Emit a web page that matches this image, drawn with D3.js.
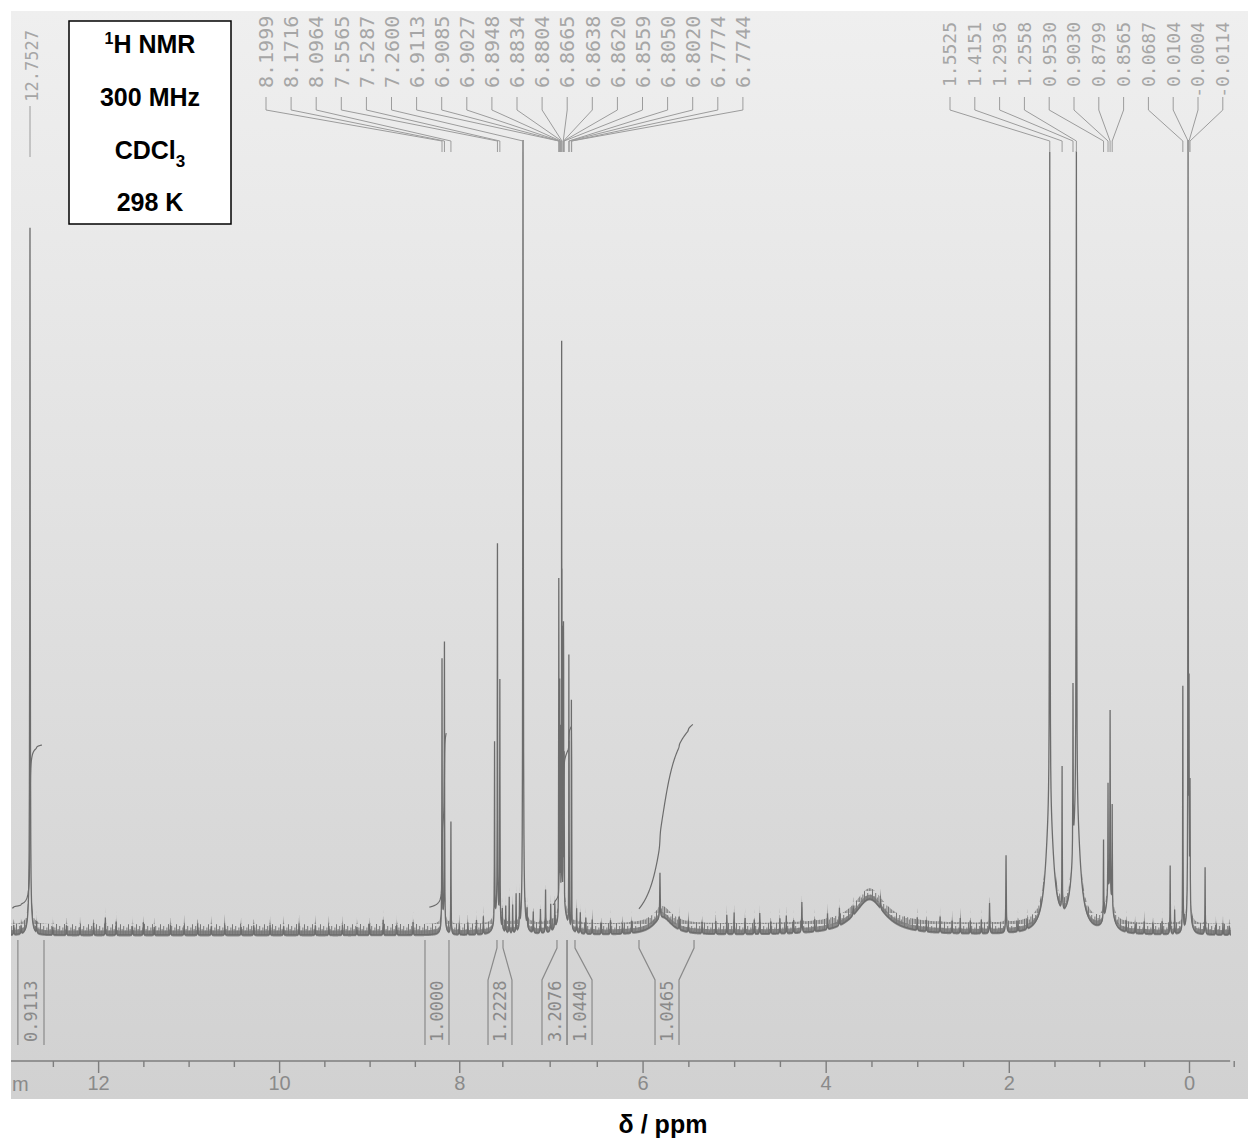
<!DOCTYPE html>
<html>
<head>
<meta charset="utf-8">
<script src="https://cdn.jsdelivr.net/npm/d3@7/dist/d3.min.js"></script>
<style>
  body { margin: 0; background: #fff; }
  svg { display: block; }
</style>
</head>
<body>
<script>
// peaks: [ppm, height in % of full scale, half width in ppm]
var peaks = [
    [12.7527, 86, 0.003], [12.755, 3, 0.02],
    [8.1999, 33.6, 0.002], [8.1716, 35.0, 0.002], [8.0964, 14.1, 0.002], [8.18, 2, 0.02],
    [7.59, 22.6, 0.002], [7.5565, 46.0, 0.002], [7.5287, 30.4, 0.002], [7.56, 3, 0.03],
    [7.26, 100, 0.003], [7.26, 3, 0.02],
    [6.9113, 40, 0.001], [6.9085, 20, 0.001], [6.9027, 28, 0.001], [6.8948, 22, 0.001],
    [6.8834, 67, 0.001], [6.8804, 35, 0.001], [6.8665, 30, 0.001], [6.8638, 26, 0.001],
    [6.8620, 22, 0.001], [6.8559, 18, 0.001], [6.8050, 32, 0.001], [6.8020, 20, 0.001],
    [6.7774, 27, 0.001], [6.7744, 18, 0.001], [6.87, 4, 0.04],
    [5.81, 5.7, 0.003], [5.78, 2.2, 0.12],
    [4.26, 3.8, 0.003], [3.52, 4.5, 0.2],
    [2.21, 3.8, 0.003], [2.03, 9.7, 0.003],
    [1.5525, 83, 0.003], [1.5525, 15, 0.05], [1.4151, 18, 0.002], [1.2936, 21, 0.002],
    [1.2558, 83, 0.003], [1.2558, 15, 0.05],
    [0.9530, 10, 0.002], [0.9030, 14, 0.002], [0.8799, 23, 0.002], [0.8565, 13, 0.002], [0.89, 5, 0.04],
    [0.21, 8.6, 0.002], [0.16, 3, 0.002], [0.0687, 30.8, 0.002], [0.0104, 100, 0.002],
    [-0.0004, 25, 0.002], [-0.0114, 15, 0.002], [0.0, 4, 0.02], [-0.18, 8.4, 0.002]
];

// taller noise spikes on the baseline: [ppm, height %]
var grass = [
    [12.93, 1.2], [12.85, 1.0], [12.68, 1.4], [12.5, 1.0], [12.35, 1.2], [12.2, 1.0], [12.05, 1.5],
    [11.92, 2.2], [11.8, 1.7], [11.62, 1.1], [11.5, 1.6], [11.38, 1.0], [11.2, 1.3], [11.05, 1.2],
    [10.9, 1.4], [10.75, 1.1], [10.6, 1.3], [10.42, 1.0], [10.28, 1.2], [10.1, 1.3], [9.95, 1.1],
    [9.78, 1.4], [9.6, 1.2], [9.45, 1.1], [9.3, 1.3], [9.14, 1.0], [9.0, 1.4], [8.85, 1.9],
    [8.7, 1.3], [8.52, 1.6], [8.0, 1.3], [7.9, 1.5], [7.8, 1.8], [7.72, 2.2],
    [7.50, 2.5], [7.46, 3.3], [7.42, 4.5], [7.38, 3.5], [7.34, 4.8], [7.30, 4.0], [7.22, 2.2],
    [7.16, 2.6], [7.09, 3.0], [7.04, 5.4], [6.99, 3.4], [6.95, 3.0], [6.72, 3.0], [6.68, 2.6],
    [6.62, 2.0], [6.55, 1.8], [6.45, 1.4], [6.35, 1.7], [6.22, 1.3], [6.12, 1.5], [5.6, 1.6],
    [5.5, 1.3], [5.35, 1.4], [5.2, 1.6], [5.08, 2.4], [5.0, 2.7], [4.88, 2.0], [4.78, 1.8],
    [4.72, 2.6], [4.6, 1.5], [4.5, 1.9], [4.43, 2.2], [4.35, 1.6], [4.12, 1.5], [3.98, 2.0],
    [3.85, 2.2], [3.7, 1.2], [3.4, 1.2], [3.0, 1.6], [2.9, 1.4], [2.75, 2.0], [2.62, 1.5],
    [2.53, 1.9], [2.42, 1.6], [2.3, 1.7], [1.9, 1.3], [1.8, 1.2], [0.7, 1.4], [0.6, 1.2],
    [0.5, 1.5], [0.4, 1.3], [0.3, 1.6], [-0.3, 1.2], [-0.38, 1.4], [-0.45, 1.1]
];

// chemical shift labels printed at the top
var shiftsLeft = ['8.1999', '8.1716', '8.0964', '7.5565', '7.5287', '7.2600', '6.9113', '6.9085',
    '6.9027', '6.8948', '6.8834', '6.8804', '6.8665', '6.8638', '6.8620', '6.8559', '6.8050',
    '6.8020', '6.7774', '6.7744'];
var shiftsRight = ['1.5525', '1.4151', '1.2936', '1.2558', '0.9530', '0.9030', '0.8799', '0.8565',
    '0.0687', '0.0104', '-0.0004', '-0.0114'];
var shiftSingle = '12.7527';

// integration regions: [value, top from, top to, bottom from, bottom to] in ppm
var integrals = [
    ['0.9113', 12.885, 12.598, 12.885, 12.598],
    ['1.0000', 8.388, 8.119, 8.388, 8.119],
    ['1.2228', 7.562, 7.492, 7.666, 7.388],
    ['3.2076', 6.929, 6.825, 7.075, 6.825],
    ['1.0440', 6.825, 6.738, 6.825, 6.552],
    ['1.0465', 6.039, 5.438, 5.864, 5.602]
];
// integral traces: [from ppm, to ppm, start %, end %]
var integralCurves = [
    [12.95, 12.62, 3.4, 23.9],
    [8.34, 8.15, 3.5, 25.4],
    [6.97, 6.78, 3.8, 26.2],
    [6.04, 5.45, 3.3, 26.5]
];

var majorTicks = [12, 10, 8, 6, 4, 2, 0];
var minorTicks = [12.5, 11.5, 11, 10.5, 9.5, 9, 8.5, 7.5, 7, 6.5, 5.5, 5, 4.5, 3.5, 3, 2.5, 1.5, 1, 0.5, -0.5];

var W = 1248, H = 1142;
var ink = '#6c6c6c', faint = '#a6a6a6';

var svg = d3.select('body').append('svg')
    .attr('width', W)
    .attr('height', H);

// the photographed paper is slightly stretched, so the shift scale is piecewise
var x = d3.scaleLinear()
    .domain([12.96, 12.7527, 8.2, 7.26, 6.88, 1.55, 0, -0.615])
    .range([11, 30, 442, 523, 562, 1050, 1189, 1244]);
var y = d3.scaleLinear().domain([0, 100]).range([935, 140]);

// photo background
var defs = svg.append('defs');
var grad = defs.append('linearGradient').attr('id', 'paper')
    .attr('x1', 0).attr('y1', 0).attr('x2', 0).attr('y2', 1);
grad.append('stop').attr('offset', '0%').attr('stop-color', '#efefef');
grad.append('stop').attr('offset', '45%').attr('stop-color', '#e2e2e2');
grad.append('stop').attr('offset', '100%').attr('stop-color', '#d1d1d1');
defs.append('clipPath').attr('id', 'photo')
    .append('rect').attr('x', 11).attr('y', 11).attr('width', 1237).attr('height', 1088);

// stripe texture for the noisy baseline
var tex = defs.append('pattern').attr('id', 'grassTex')
    .attr('patternUnits', 'userSpaceOnUse')
    .attr('x', 0).attr('y', 924).attr('width', 8).attr('height', 11);
[[0, 0], [1.6, 5], [3.2, 2], [4.8, 6.5], [6.4, 3.5]].forEach(function(s) {
    tex.append('rect').attr('x', s[0]).attr('y', s[1]).attr('width', 1)
        .attr('height', 11 - s[1]).attr('fill', '#777');
});

svg.append('rect')
    .attr('x', 11).attr('y', 11).attr('width', 1237).attr('height', 1088)
    .attr('fill', 'url(#paper)');

var g = svg.append('g').attr('clip-path', 'url(#photo)');

// build trace
var lines = peaks.concat(grass.map(function(d) { return [d[0], d[1], 0.002]; }));
var ppms = d3.range(13.05, -0.47, -0.003).concat(lines.map(function(d) { return d[0]; }));
ppms.sort(function(a, b) { return b - a; });
var trace = ppms.map(function(p) {
    var v = 0;
    for (var i = 0; i < lines.length; i++) {
        var t = (p - lines[i][0]) / lines[i][2];
        v += lines[i][1] / (1 + t * t);
    }
    return { p: p, v: Math.min(v, 100) };
});

// noisy band along the baseline
g.append('path')
    .datum(trace)
    .attr('fill', '#8a8a8a')
    .attr('d', d3.area()
        .defined(function(d) { return d.v < 7; })
        .x(function(d) { return x(d.p); })
        .y0(function(d) { return y(d.v) + 1.5; })
        .y1(function(d) { return y(d.v + 0.55); }));
g.append('path')
    .datum(trace)
    .attr('fill', 'url(#grassTex)')
    .attr('d', d3.area()
        .defined(function(d) { return d.v < 7; })
        .x(function(d) { return x(d.p); })
        .y0(function(d) { return y(d.v); })
        .y1(function(d) { return y(d.v + 1.35); }));

g.append('path')
    .datum(trace)
    .attr('fill', 'none')
    .attr('stroke', ink)
    .attr('stroke-width', 1.3)
    .attr('d', d3.line().x(function(d) { return x(d.p); }).y(function(d) { return y(d.v); }));

// integral traces
integralCurves.forEach(function(c) {
    var seg = trace.filter(function(d) { return d.p <= c[0] && d.p >= c[1]; });
    var sum = 0, cum = [0];
    for (var i = 1; i < seg.length; i++) {
        sum += (seg[i].v + seg[i - 1].v) / 2 * (seg[i - 1].p - seg[i].p);
        cum.push(sum);
    }
    var k = d3.scaleLinear().domain([0, sum]).range([c[2], c[3]]);
    g.append('path')
        .datum(seg)
        .attr('fill', 'none')
        .attr('stroke', ink)
        .attr('stroke-width', 1.2)
        .attr('d', d3.line()
            .x(function(d) { return x(d.p); })
            .y(function(d, i) { return y(k(cum[i])); }));
});

// shift labels and connectors
function shiftGroup(labels, x0, dx, size, anchorTop) {
    labels.forEach(function(s, i) {
        var lx = x0 + i * dx, px = x(+s);
        g.append('text')
            .attr('transform', 'translate(' + lx + ',' + (anchorTop ? anchorTop : 88) + ') rotate(-90)')
            .attr('dy', '0.36em')
            .attr('text-anchor', anchorTop ? 'end' : 'start')
            .attr('fill', faint)
            .style('font-family', 'DejaVu Sans Mono')
            .style('font-size', size + 'px')
            .text(s);
        g.append('path')
            .attr('d', 'M' + lx + ',97V110L' + px + ',141V152')
            .attr('fill', 'none')
            .attr('stroke', '#9c9c9c')
            .attr('stroke-width', 1);
    });
}
shiftGroup(shiftsLeft, 266, 25.1, 20);
shiftGroup(shiftsRight, 950, 24.8, 18, 22);

g.append('text')
    .attr('transform', 'translate(' + (x(+shiftSingle) + 2) + ',30) rotate(-90)')
    .attr('dy', '0.36em')
    .attr('text-anchor', 'end')
    .attr('fill', faint)
    .style('font-family', 'DejaVu Sans Mono')
    .style('font-size', '17px')
    .text(shiftSingle);
g.append('line')
    .attr('x1', x(+shiftSingle)).attr('x2', x(+shiftSingle))
    .attr('y1', 106).attr('y2', 157)
    .attr('stroke', '#9c9c9c');

// integration brackets
integrals.forEach(function(d) {
    [[d[1], d[3]], [d[2], d[4]]].forEach(function(e) {
        g.append('path')
            .attr('d', 'M' + x(e[0]) + ',940V948L' + x(e[1]) + ',980V1045')
            .attr('fill', 'none')
            .attr('stroke', '#8a8a8a')
            .attr('stroke-width', 1.2);
    });
    g.append('text')
        .attr('transform', 'translate(' + ((x(d[3]) + x(d[4])) / 2) + ',1042) rotate(-90)')
        .attr('dy', '0.36em')
        .attr('fill', '#8a8a8a')
        .style('font-family', 'DejaVu Sans Mono')
        .style('font-size', '17px')
        .text(d[0]);
});

// axis
g.append('line')
    .attr('x1', x(12.96)).attr('x2', x(-0.46))
    .attr('y1', 1061).attr('y2', 1061)
    .attr('stroke', '#7e7e7e').attr('stroke-width', 1.5);

var minorAxis = g.append('g').attr('transform', 'translate(0,1061)')
    .call(d3.axisBottom(x).tickValues(minorTicks).tickSize(6).tickFormat(''));
var majorAxis = g.append('g').attr('transform', 'translate(0,1061)')
    .call(d3.axisBottom(x).tickValues(majorTicks).tickSize(12).tickPadding(3).tickFormat(d3.format('d')));
[minorAxis, majorAxis].forEach(function(a) {
    a.select('.domain').remove();
    a.selectAll('line').attr('stroke', '#7e7e7e').attr('stroke-width', 1.4);
    a.selectAll('text').attr('fill', '#8a8a8a')
        .style('font-family', 'Liberation Sans')
        .style('font-size', '20px');
});

// only the tail of the unit label is on the photo
g.append('text')
    .attr('x', 12).attr('y', 1091)
    .attr('fill', '#8a8a8a')
    .style('font-family', 'Liberation Sans')
    .style('font-size', '20px')
    .text('m');

// info box
svg.append('rect')
    .attr('x', 69).attr('y', 21).attr('width', 162).attr('height', 203)
    .attr('fill', '#fff').attr('stroke', '#000').attr('stroke-width', 1.5);

var info = svg.append('text')
    .attr('text-anchor', 'middle')
    .attr('fill', '#000')
    .style('font-family', 'Liberation Sans, Arial, sans-serif')
    .style('font-weight', 'bold')
    .style('font-size', '25px');
var l1 = info.append('tspan').attr('x', 150).attr('y', 53);
l1.append('tspan').attr('dy', -9).style('font-size', '16px').text('1');
l1.append('tspan').attr('dy', 9).text('H NMR');
info.append('tspan').attr('x', 150).attr('y', 106).text('300 MHz');
var l3 = info.append('tspan').attr('x', 150).attr('y', 159);
l3.append('tspan').text('CDCl');
l3.append('tspan').attr('dy', 8).style('font-size', '17px').text('3');
info.append('tspan').attr('x', 150).attr('y', 211).text('298 K');

svg.append('text')
    .attr('x', 663).attr('y', 1133)
    .attr('text-anchor', 'middle')
    .attr('fill', '#000')
    .style('font-family', 'Liberation Sans, Arial, sans-serif')
    .style('font-weight', 'bold')
    .style('font-size', '25px')
    .text('δ / ppm');
</script>
</body>
</html>
